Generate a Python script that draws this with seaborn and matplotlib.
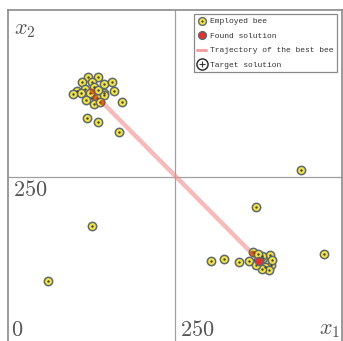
import matplotlib
matplotlib.use("Agg")
import matplotlib.pyplot as plt
from matplotlib.lines import Line2D
import seaborn as sns
import pandas as pd

# Employed bees (x1, x2)
bee_x = [120, 134, 111, 125, 144, 156, 103, 115, 129, 144, 158, 109, 123, 133, 143,
         117, 128, 138, 97, 135, 170, 118, 134, 166,
         126, 60, 439, 371, 473,
         304, 324, 346, 361, 367, 382, 392, 394, 385, 390, 380, 372, 395, 380, 374]
bee_y = [399, 399, 392, 392, 389, 392, 378, 381, 385, 375, 379, 375, 375, 369, 373,
         365, 360, 363, 374, 380, 363, 338, 333, 317,
         177, 94, 260, 205, 135,
         125, 127, 123, 125, 138, 128, 133, 118, 116, 111, 113, 118, 126, 132, 135]

# Found solutions along the way, and the final one
found_x = [125, 130, 140, 365, 375]
found_y = [378, 370, 363, 136, 125]

# Trajectory of the best bee
traj_x = [125, 130, 140, 365, 375]
traj_y = [378, 370, 363, 136, 125]

# Target solutions
target_x = [125, 375]
target_y = [375, 125]

sns.set_style("white")
plt.rcParams["mathtext.fontset"] = "cm"

fig = plt.figure(figsize=(3.43, 3.41), dpi=100)
ax = fig.add_axes([8 / 343, -3 / 341, 334 / 343, 334 / 341])

ax.axvline(250, color="#a0a0a0", lw=0.9, zorder=1)
ax.axhline(250, color="#a0a0a0", lw=0.9, zorder=1)

bees = pd.DataFrame({"x": bee_x, "y": bee_y})
found = pd.DataFrame({"x": found_x, "y": found_y})
traj = pd.DataFrame({"x": traj_x, "y": traj_y})
target = pd.DataFrame({"x": target_x, "y": target_y})

edge = "#5f6a6a"
yellow = "#f2e34a"

sns.scatterplot(data=target, x="x", y="y", s=60, marker="o", facecolor="white",
                edgecolor="#333333", linewidth=1.2, ax=ax, zorder=2, legend=False)
sns.lineplot(data=traj, x="x", y="y", sort=False, color="#f08c8c", alpha=0.6,
             lw=3.2, ax=ax, zorder=3, legend=False)
sns.scatterplot(data=bees, x="x", y="y", s=36, marker="o", facecolor=yellow,
                edgecolor=edge, linewidth=1.1, ax=ax, zorder=4, legend=False)
sns.scatterplot(data=bees, x="x", y="y", s=3, marker="o", color="#444433",
                linewidth=0, ax=ax, zorder=5, legend=False)
sns.scatterplot(data=found.iloc[:-1], x="x", y="y", s=18, marker="o", color="#c04010",
                alpha=0.7, linewidth=0, ax=ax, zorder=6, legend=False)
sns.scatterplot(data=found.iloc[-1:], x="x", y="y", s=34, marker="o", facecolor="#e83030",
                edgecolor=edge, linewidth=1.0, ax=ax, zorder=7, legend=False)

ax.set_xlim(0, 500)
ax.set_ylim(0, 500)
ax.set_xticks([])
ax.set_yticks([])
ax.set_xlabel("")
ax.set_ylabel("")
for side in ["left", "right", "top", "bottom"]:
    ax.spines[side].set_color("#8a8a8a")
    ax.spines[side].set_linewidth(1.2)

tc = "#555555"
ax.text(9, 470, "$x_2$", fontsize=16, color=tc, ha="left", va="center")
ax.text(497, 21, "$x_1$", fontsize=16, color=tc, ha="right", va="center")
ax.text(8, 230, "$250$", fontsize=16, color=tc, ha="left", va="center")
ax.text(4, 21, "$0$", fontsize=16, color=tc, ha="left", va="center")
ax.text(257, 21, "$250$", fontsize=16, color=tc, ha="left", va="center")

h_bee = (Line2D([], [], ls="", marker="o", ms=5.6, mfc=yellow, mec=edge, mew=1.0),
         Line2D([], [], ls="", marker="o", ms=1.6, mfc="#444433", mec="none"))
h_found = Line2D([], [], ls="", marker="o", ms=5.6, mfc="#e83030", mec=edge, mew=1.0)
h_traj = Line2D([], [], color="#f08c8c", lw=2.2, alpha=0.8)
h_target = (Line2D([], [], ls="", marker="o", ms=8, mfc="white", mec="#333333", mew=1.1),
            Line2D([], [], ls="", marker="+", ms=4.8, mec="#333333", mew=0.8))
leg = ax.legend([h_bee, h_found, h_traj, h_target],
                ["Employed bee", "Found solution", "Trajectory of the best bee", "Target solution"],
                loc="upper right", bbox_to_anchor=(0.993, 0.995),
                prop={"family": "Liberation Mono", "size": 5.8},
                frameon=True, fancybox=False, edgecolor="#8a8a8a", framealpha=1,
                handlelength=1.1, handletextpad=0.5, labelspacing=0.85,
                borderpad=0.45, borderaxespad=0.3)
leg.get_frame().set_linewidth(0.9)
for t in leg.get_texts():
    t.set_color("#333333")

fig.savefig("out.png", dpi=100)
